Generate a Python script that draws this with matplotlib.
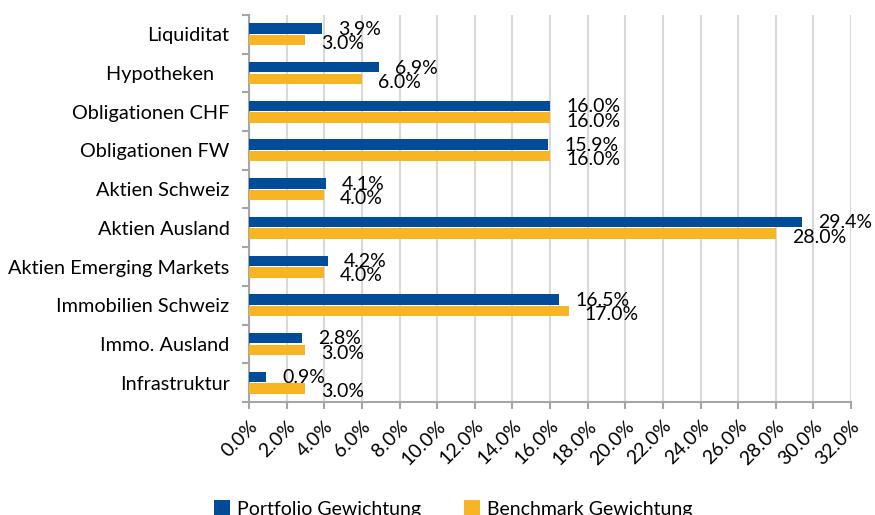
import matplotlib.pyplot as plt
import numpy as np

# ---- Daten ----
categories = ["Liquiditat", "Hypotheken   ", "Obligationen CHF", "Obligationen FW",
              "Aktien Schweiz", "Aktien Ausland", "Aktien Emerging Markets",
              "Immobilien Schweiz", "Immo. Ausland", "Infrastruktur"]
portfolio = [3.9, 6.9, 16.0, 15.9, 4.1, 29.4, 4.2, 16.5, 2.8, 0.9]
benchmark = [3.0, 6.0, 16.0, 16.0, 4.0, 28.0, 4.0, 17.0, 3.0, 3.0]
x_ticks = np.arange(0, 33, 2)

blue = "#004C99"
orange = "#F8B523"
grid_col = "#D9D9D9"
axis_col = "#A6A6A6"

plt.rcParams["font.family"] = ["Lato", "DejaVu Sans"]

fig = plt.figure(figsize=(8.75, 5.15), dpi=100)
ax = fig.add_axes([0.2846, 0.2194, 0.688, 0.7515])

y = np.arange(len(categories))
h = 0.27
ax.barh(y - 0.15, portfolio, height=h, color=blue, label="Portfolio Gewichtung", zorder=3)
ax.barh(y + 0.15, benchmark, height=h, color=orange, label="Benchmark Gewichtung", zorder=3)

# ---- Datenbeschriftung ----
for i, (p, b) in enumerate(zip(portfolio, benchmark)):
    ax.text(p + 0.85, i - 0.13, f"{p:.1f}%", va="center", ha="left", fontsize=14, zorder=4)
    ax.text(b + 0.85, i + 0.24, f"{b:.1f}%", va="center", ha="left", fontsize=14, zorder=4)

ax.set_xlim(0, 32)
ax.set_ylim(len(categories) - 0.5, -0.5)
ax.set_xticks(x_ticks)
ax.set_xticklabels([f"{v:.1f}%" for v in x_ticks], rotation=45, ha="right",
                   rotation_mode="anchor", fontsize=14)
ax.set_yticks(np.arange(len(categories) + 1) - 0.5)
ax.set_yticklabels([])
ax.set_yticks(y, minor=True)
ax.set_yticklabels(categories, minor=True, fontsize=14.3)
ax.tick_params(axis="y", which="minor", length=0, pad=14)
ax.tick_params(axis="y", which="major", length=5, color=axis_col, width=1.5)
ax.tick_params(axis="x", length=5, color=axis_col, width=1.5, pad=6)

ax.grid(axis="x", color=grid_col, linewidth=1.5, zorder=0)
for s in ["top", "right"]:
    ax.spines[s].set_visible(False)
for s in ["left", "bottom"]:
    ax.spines[s].set_color(axis_col)
    ax.spines[s].set_linewidth(1.5)

fig.legend(loc="center", bbox_to_anchor=(0.518, 0.012), ncol=2, frameon=False,
           fontsize=14, handlelength=0.85, handleheight=0.85, columnspacing=2.2,
           handletextpad=0.35)

fig.savefig("out.png", dpi=100)
